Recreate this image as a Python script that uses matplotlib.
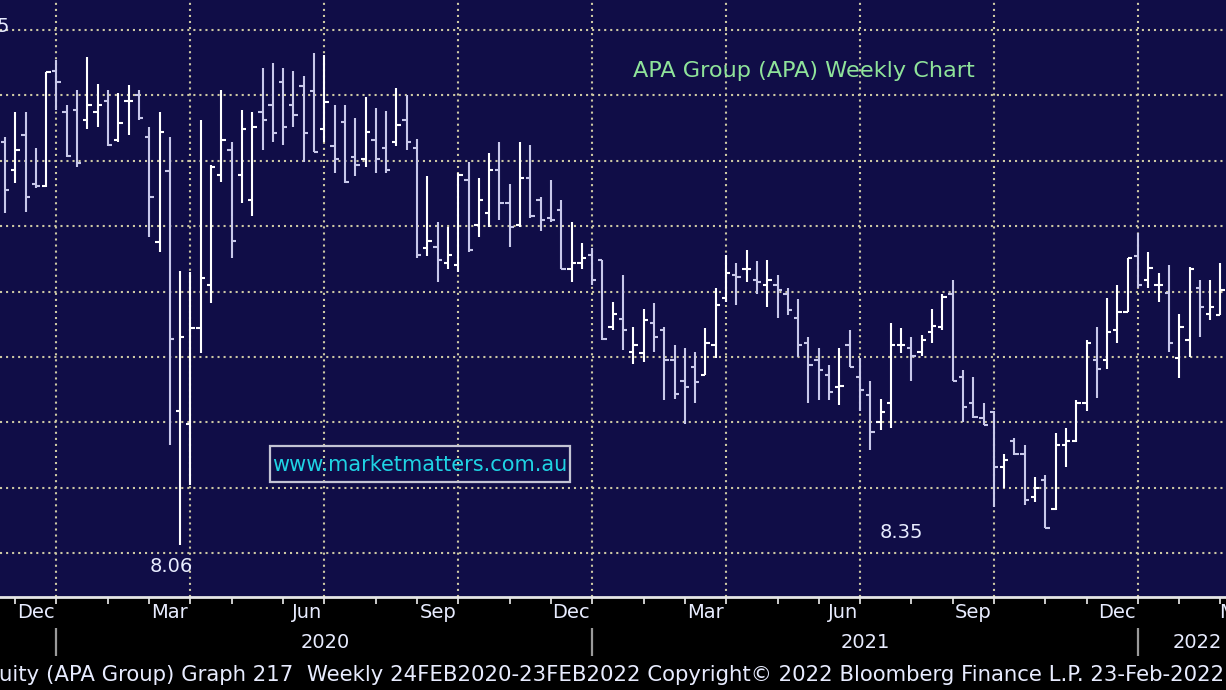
import matplotlib
matplotlib.use('Agg')
import matplotlib.pyplot as plt
from matplotlib.patches import Rectangle
import numpy as np

W, H, DPI = 1226, 690, 100

# ---------------- data (weekly OHLC, APA Group) ----------------
opens = [11.14, 10.93, 11.20, 10.82, 10.81, 11.69, 11.37, 11.39, 11.31, 11.37,
         11.46, 11.16, 11.46, 11.50, 11.18, 10.38, 10.92, 9.09, 8.99, 9.72,
         10.05, 10.89, 11.08, 10.89, 10.70, 11.37, 11.43, 11.60, 11.43, 11.57,
         11.53, 11.24, 11.11, 11.30, 11.03, 11.01, 11.16, 11.10, 11.14, 11.31,
         11.10, 10.33, 10.34, 10.22, 10.20, 10.85, 10.51, 10.60, 10.93, 10.68,
         10.51, 10.87, 10.70, 10.56, 10.62, 10.17, 10.22, 10.28, 10.24, 9.73,
         9.79, 9.54, 9.53, 9.76, 9.71, 9.48, 9.32, 9.42, 9.36, 9.59,
         9.95, 10.13, 10.17, 10.09, 10.05, 10.05, 9.98, 9.80, 9.61, 9.48,
         9.36, 9.27, 9.59, 9.35, 9.21, 9.00, 9.15, 9.59, 9.57, 9.54,
         9.69, 9.73, 9.98, 9.35, 9.15, 9.03, 9.08, 8.66, 8.86, 8.76,
         8.43, 8.56, 8.34, 8.83, 8.86, 9.15, 9.48, 9.48, 9.71, 9.84,
         10.27, 10.09, 10.05, 9.99, 9.49, 9.63, 10.03, 9.83, 9.82]
highs = [11.18, 11.37, 11.37, 11.10, 11.68, 11.77, 11.43, 11.54, 11.79, 11.59,
         11.54, 11.52, 11.58, 11.54, 11.26, 11.37, 11.18, 10.16, 10.15, 11.31,
         10.97, 11.54, 11.14, 11.39, 11.37, 11.71, 11.75, 11.71, 11.69, 11.65,
         11.82, 11.81, 11.43, 11.43, 11.33, 11.49, 11.40, 11.38, 11.56, 11.50,
         11.17, 10.88, 10.53, 10.49, 10.91, 10.99, 10.87, 11.06, 11.14, 10.82,
         11.14, 11.12, 10.72, 10.85, 10.70, 10.53, 10.37, 10.33, 10.24, 9.92,
         10.13, 9.73, 9.87, 9.91, 9.73, 9.59, 9.57, 9.54, 9.72, 10.03,
         10.28, 10.22, 10.32, 10.23, 10.24, 10.13, 10.03, 9.94, 9.65, 9.57,
         9.44, 9.57, 9.71, 9.49, 9.32, 9.18, 9.76, 9.72, 9.65, 9.67,
         9.87, 9.98, 10.09, 9.40, 9.35, 9.15, 9.09, 8.76, 8.88, 8.83,
         8.58, 8.60, 8.92, 8.96, 9.17, 9.63, 9.73, 9.95, 10.05, 10.26,
         10.45, 10.30, 10.14, 10.20, 9.83, 10.19, 10.09, 10.09, 10.22]
lows = [10.60, 10.83, 10.61, 10.79, 10.80, 11.39, 11.03, 10.95, 11.24, 11.26,
        11.11, 11.14, 11.20, 11.31, 10.42, 10.30, 8.83, 8.06, 8.52, 9.53,
        9.91, 10.84, 10.26, 10.68, 10.58, 11.08, 11.14, 11.12, 11.26, 10.99,
        11.07, 11.14, 10.91, 10.83, 10.88, 10.95, 10.91, 10.91, 11.11, 11.08,
        10.26, 10.27, 10.07, 10.17, 10.15, 10.30, 10.42, 10.49, 10.55, 10.34,
        10.49, 10.56, 10.46, 10.53, 10.17, 10.07, 10.17, 10.05, 9.63, 9.71,
        9.55, 9.45, 9.46, 9.54, 9.17, 9.18, 8.99, 9.15, 9.36, 9.49,
        9.92, 9.90, 10.07, 9.98, 9.88, 9.80, 9.82, 9.50, 9.15, 9.17,
        9.17, 9.13, 9.42, 9.09, 8.79, 8.94, 8.96, 9.53, 9.32, 9.51,
        9.61, 9.71, 9.32, 9.00, 9.03, 8.98, 8.35, 8.50, 8.75, 8.37,
        8.39, 8.19, 8.33, 8.66, 8.85, 9.09, 9.19, 9.41, 9.61, 9.84,
        10.03, 10.03, 9.92, 9.54, 9.34, 9.50, 9.65, 9.78, 9.82]
closes = [10.78, 11.08, 10.72, 10.81, 11.68, 11.60, 11.04, 10.98, 11.43, 11.43,
          11.12, 11.29, 11.46, 11.33, 10.72, 11.22, 9.64, 9.65, 9.72, 10.10,
          10.95, 11.16, 10.39, 11.24, 11.26, 11.31, 11.21, 11.26, 11.35, 11.21,
          11.07, 11.45, 11.01, 10.84, 10.97, 11.22, 11.01, 10.93, 11.27, 11.14,
          10.28, 10.39, 10.24, 10.28, 10.89, 10.32, 10.70, 10.93, 10.68, 10.49,
          10.87, 10.58, 10.55, 10.55, 10.17, 10.22, 10.26, 10.09, 9.64, 9.83,
          9.71, 9.59, 9.78, 9.65, 9.48, 9.22, 9.27, 9.31, 9.61, 9.90,
          10.14, 10.11, 10.17, 10.07, 10.09, 10.01, 9.86, 9.59, 9.44, 9.40,
          9.23, 9.28, 9.42, 9.25, 8.93, 9.08, 9.59, 9.59, 9.51, 9.63,
          9.74, 9.96, 9.32, 9.12, 9.04, 8.98, 8.66, 8.71, 8.76, 8.41,
          8.50, 8.19, 8.83, 8.86, 9.15, 9.61, 9.41, 9.69, 9.84, 10.26,
          10.05, 10.18, 10.05, 9.61, 9.73, 10.17, 9.88, 9.88, 10.01]

month_ticks = [1, 5, 10, 14, 18, 22, 27, 31, 36, 40, 44, 49, 53, 57, 62, 66,
               70, 75, 79, 83, 88, 92, 96, 101, 105, 110, 114, 118]
quarter_ticks = [5, 18, 31, 44, 57, 70, 83, 96, 110, 121.6]
quarter_labels = ['Dec', 'Mar', 'Jun', 'Sep', 'Dec', 'Mar', 'Jun', 'Sep', 'Dec', 'Mar']
year_breaks = [5, 57, 110]
year_labels = ['2020', '2021', '2022']
year_label_x = [31.1, 83.5, 115.8]
price_grid = [8.0, 8.5, 9.0, 9.5, 10.0, 10.5, 11.0, 11.5, 12.0]
low_labels = ['8.06', '8.35']

title = 'APA Group (APA) Weekly Chart'
watermark = 'www.marketmatters.com.au'
footer = ('uity (APA Group) Graph 217  Weekly 24FEB2020-23FEB2022 '
          'Copyright\u00a9 2022 Bloomberg Finance L.P. 23-Feb-2022')

# ---------------- figure ----------------
NAVY = '#100d47'
GRID = '#cdc8a4'
fig = plt.figure(figsize=(W / DPI, H / DPI), dpi=DPI, facecolor='black')
bottom_px = 93
ax = fig.add_axes([0, bottom_px / H, 1, 1 - bottom_px / H])
ax.set_facecolor(NAVY)
ax2 = fig.add_axes([0, 0, 1, bottom_px / H], sharex=ax)
ax2.patch.set_visible(False)
ax2.axis('off')
ax2.set_ylim(H, H - bottom_px)  # pixel rows from the top

n = len(opens)
x = np.arange(n)
ax.set_xlim(-0.485, 118.54)
ax.set_ylim(7.665, 12.229)

# grid
for p in price_grid:
    ax.axhline(p, color=GRID, lw=1.5, ls=(0, (1, 1.9)), zorder=1)
for q in quarter_ticks:
    ax.axvline(q, color=GRID, lw=1.5, ls=(0, (1, 1.9)), zorder=1)

# OHLC bars
o = np.array(opens); h = np.array(highs); l = np.array(lows); c = np.array(closes)
cols = np.where(c >= o, '#ffffff', '#c8c8ea')
tw = 0.42
ax.vlines(x, l, h, colors=cols, lw=1.5, zorder=3)
ax.hlines(o, x - tw, x, colors=cols, lw=1.5, zorder=3)
ax.hlines(c, x, x + tw, colors=cols, lw=1.5, zorder=3)

# axes / ticks
for s in ['top', 'left', 'right']:
    ax.spines[s].set_visible(False)
ax.spines['bottom'].set_color('#e6e6e6')
ax.spines['bottom'].set_linewidth(2.0)
ax.set_yticks([])
ax.set_xticks(month_ticks)
ax.tick_params(axis='x', direction='out', length=5, width=1.3, color='#dcdcdc',
               labelbottom=False)
ax.tick_params(axis='x', labelbottom=False)
plt.setp(ax2.get_xticklabels(), visible=False)

TXT = '#e8ecff'
for q, lab in zip(quarter_ticks, quarter_labels):
    ax2.text(q - 0.2, 613, lab, ha='right', va='center', color=TXT,
             fontsize=14, family='DejaVu Sans', clip_on=False)
ax2.vlines(year_breaks, 628, 656, colors='#9a9a9a', lw=1.6)
for xx, lab in zip(year_label_x, year_labels):
    ax2.text(xx, 642, lab, ha='center', va='center', color=TXT, fontsize=14,
             family='DejaVu Sans')

def px(xp, yp):
    return xp / W, 1 - yp / H

ft = fig.text(*px(-1, 675), footer, ha='left', va='center', color=TXT,
              fontsize=14, family='DejaVu Sans')

tt = fig.text(*px(804, 71), title, ha='center', va='center', color='#8fe39a',
              fontsize=15, family='DejaVu Sans')

fig.add_artist(Rectangle(px(270, 482), 300 / W, 36 / H, transform=fig.transFigure,
                         fill=False, ec='#c4c4d4', lw=1.6))
wt = fig.text(*px(420, 465), watermark, ha='center', va='center', color='#1fd3e4',
              fontsize=15, family='DejaVu Sans')

# low annotations (placed under the lows)
ax.text(16.1, 7.895, low_labels[0], ha='center', va='center', color=TXT,
        fontsize=14, family='DejaVu Sans')
ax.text(87.0, 8.155, low_labels[1], ha='center', va='center', color=TXT,
        fontsize=14, family='DejaVu Sans')

# clipped axis value at the top-left
fig.text(*px(10, 27), '11.5', ha='right', va='center', color=TXT, fontsize=14,
         family='DejaVu Sans')

# fit text widths to the reference
fig.canvas.draw()
r = fig.canvas.get_renderer()
for t, target in [(ft, 1232), (tt, 342), (wt, 295)]:
    w = t.get_window_extent(r).width
    t.set_fontsize(t.get_fontsize() * target / w)

fig.savefig('out.png', dpi=DPI, facecolor=fig.get_facecolor())
